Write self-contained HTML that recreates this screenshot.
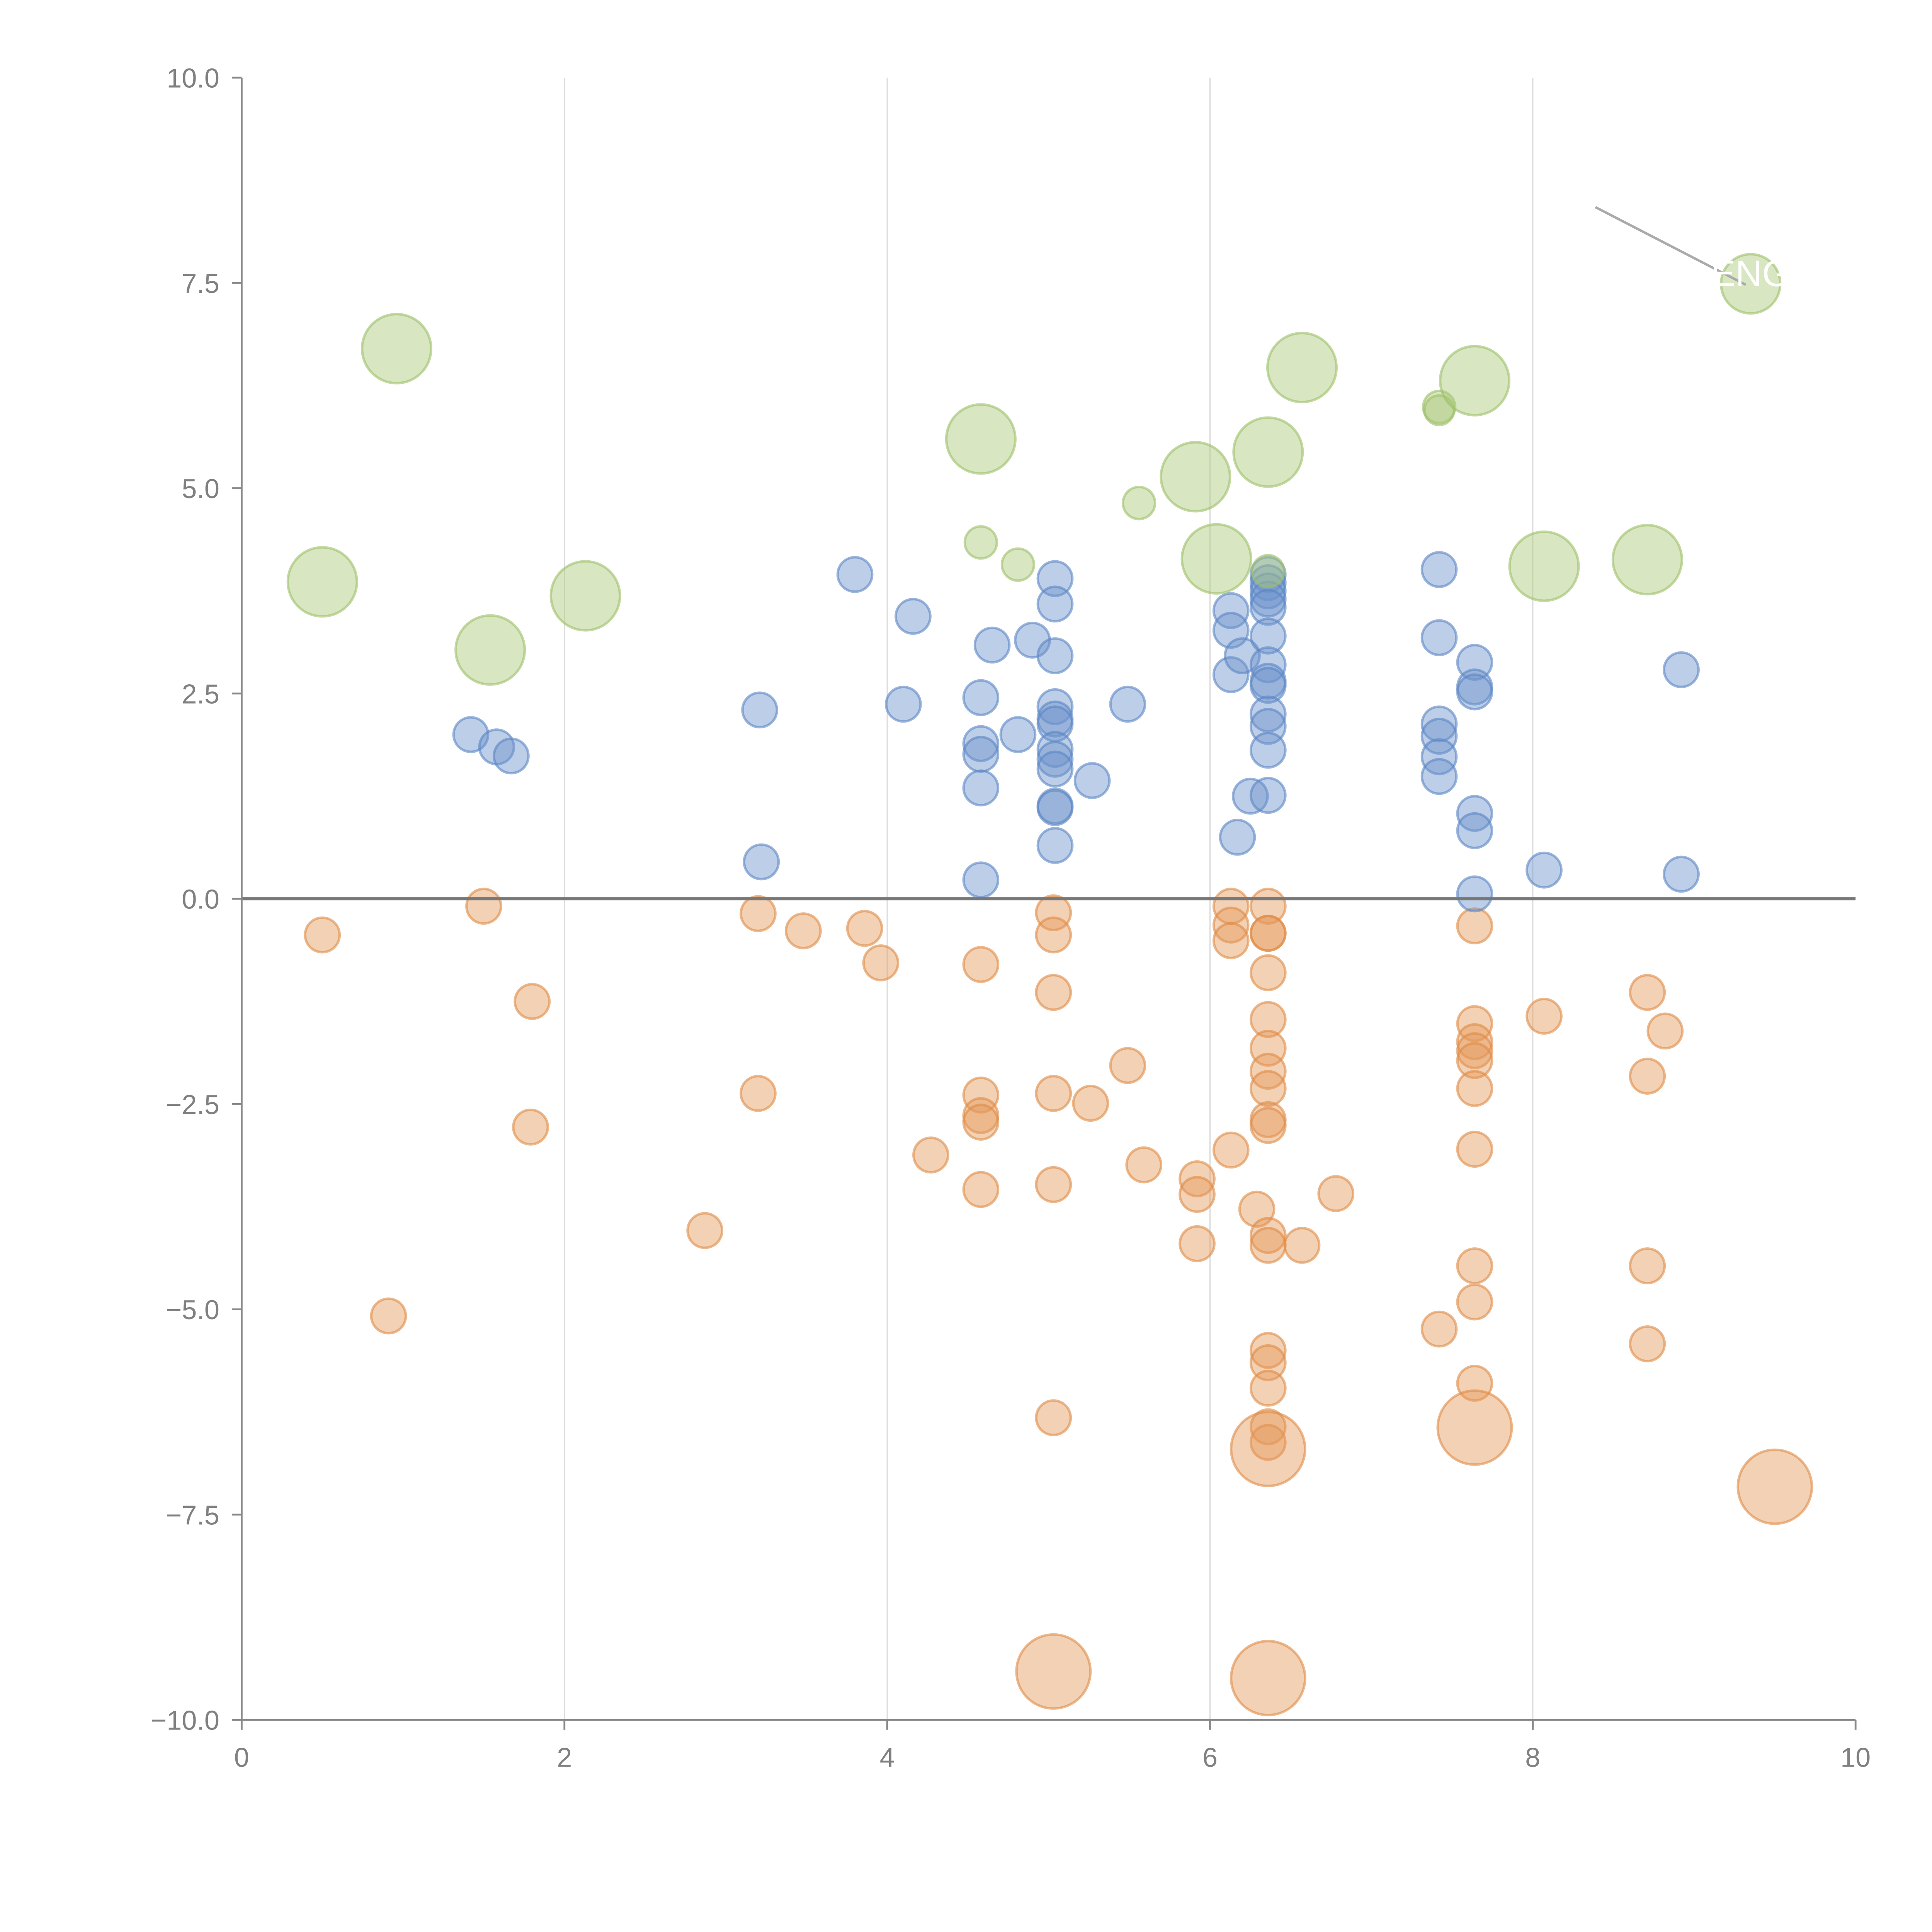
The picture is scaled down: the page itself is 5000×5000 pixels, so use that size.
<!DOCTYPE html>
<html><head><meta charset="utf-8"><style>html,body{margin:0;padding:0;background:#fff}svg{display:block}</style></head>
<body>
<svg id="chart" width="5000" height="5000" viewBox="0 0 1567 1567" xmlns="http://www.w3.org/2000/svg" font-family="Liberation Sans, sans-serif">
<g id="grid"></g>
<g id="marks"></g>
<g id="axes"></g>
</svg>
<script>
const xTicks = [0, 2, 4, 6, 8, 10];
const yTicks = [10, 7.5, 5, 2.5, 0, -2.5, -5, -7.5, -10];
const yTickLabels = ["10.0", "7.5", "5.0", "2.5", "0.0", "\u22122.5", "\u22125.0", "\u22127.5", "\u221210.0"];
const greenX = [0.96,0.50,1.54,2.13,4.58,4.58,4.81,5.56,5.91,6.04,6.36,6.36,6.57,7.42,7.42,7.64,8.07,8.71,9.35];
const greenY = [6.70,3.86,3.03,3.69,5.60,4.34,4.07,4.82,5.14,4.14,5.44,3.99,6.47,5.99,5.95,6.31,4.05,4.13,7.49];
const greenR = [28,28,28,28,28,13,13,13,28,28,28,13,28,13,12,28,28,28,24];
const blueX = [1.42,1.58,1.67,3.21,3.22,3.80,4.10,4.16,4.58,4.58,4.58,4.58,4.58,4.65,4.81,4.90,5.04,5.04,5.04,5.04,5.04,5.04,5.04,5.04,5.04,5.04,5.04,5.04,5.27,5.49,6.13,6.13,6.13,6.17,6.20,6.25,6.36,6.36,6.36,6.36,6.36,6.36,6.36,6.36,6.36,6.36,6.36,6.36,6.36,7.42,7.42,7.42,7.42,7.42,7.42,7.64,7.64,7.64,7.64,7.64,7.64,8.07,8.92,8.92];
const blueY = [2.0,1.85,1.74,2.30,0.45,3.95,2.37,3.44,2.45,1.89,1.76,1.35,0.23,3.09,2.0,3.15,3.90,3.59,2.96,2.34,2.19,2.13,1.82,1.70,1.58,1.13,1.11,0.65,1.44,2.37,3.51,3.27,2.73,0.75,2.96,1.25,3.95,3.85,3.75,3.65,3.55,3.20,2.85,2.65,2.60,2.25,2.10,1.81,1.26,4.01,3.18,2.13,1.98,1.73,1.49,2.88,2.58,2.52,1.04,0.83,0.06,0.35,2.79,0.30];
const orangeX = [0.50,1.50,0.91,1.80,1.79,2.87,3.20,3.20,3.48,3.86,3.96,4.27,4.58,4.58,4.58,4.58,4.58,5.03,5.03,5.03,5.03,5.03,5.03,5.03,5.26,5.49,5.59,5.92,5.92,5.92,6.13,6.13,6.13,6.13,6.29,6.36,6.36,6.36,6.36,6.36,6.36,6.36,6.36,6.36,6.36,6.36,6.36,6.36,6.36,6.36,6.36,6.36,6.36,6.36,6.57,6.78,7.42,7.64,7.64,7.64,7.64,7.64,7.64,7.64,7.64,7.64,7.64,7.64,8.07,8.71,8.82,8.71,8.71,8.71,9.50];
const orangeY = [-0.44,-0.09,-5.08,-1.25,-2.78,-4.04,-0.18,-2.37,-0.39,-0.36,-0.78,-3.12,-0.80,-2.39,-2.64,-2.72,-3.54,-0.17,-0.44,-1.14,-2.37,-3.48,-6.32,-9.41,-2.49,-2.03,-3.24,-3.41,-3.60,-4.20,-0.09,-0.32,-0.51,-3.06,-3.78,-0.09,-0.42,-0.42,-0.90,-1.47,-1.82,-2.10,-2.31,-2.69,-2.76,-4.10,-4.22,-5.50,-5.65,-5.96,-6.43,-6.62,-6.70,-9.49,-4.22,-3.59,-5.24,-0.33,-1.52,-1.74,-1.85,-1.97,-2.31,-3.05,-4.47,-4.91,-5.90,-6.44,-1.43,-1.14,-1.61,-2.16,-4.47,-5.42,-7.16];
const orangeR = [14,14,14,14,14,14,14,14,14,14,14,14,14,14,14,14,14,14,14,14,14,14,14,30,14,14,14,14,14,14,14,14,14,14,14,14,14,14,14,14,14,14,14,14,14,14,14,14,14,14,14,14,30,30,14,14,14,14,14,14,14,14,14,14,14,14,14,30,14,14,14,14,14,14,30];

const NS = "http://www.w3.org/2000/svg";
const X0 = 196, X1 = 1505, Y0 = 1395, Y1 = 63;
function sx(v){ return X0 + (v - 0) / 10 * (X1 - X0); }
function sy(v){ return Y0 - (v + 10) / 20 * (Y0 - Y1); }
function mk(tag, attrs, parent){ const e = document.createElementNS(NS, tag); for (const k in attrs) e.setAttribute(k, attrs[k]); parent.appendChild(e); return e; }

const grid = document.getElementById('grid');
const marks = document.getElementById('marks');
const axes = document.getElementById('axes');

xTicks.forEach(t => {
  if (t === 0 || t === 10) return;
  const l = mk('line', {x1: sx(t), x2: sx(t), y1: Y1, y2: Y0, stroke: '#dcdcdc', 'stroke-width': 1}, grid);
  
  
});

function drawSeries(xs, ys, rs, fill, stroke, name, defR){
  const g = mk('g', {}, marks);
  
  
  xs.forEach((x, i) => {
    const c = mk('circle', {cx: sx(x), cy: sy(ys[i]), r: rs ? rs[i] : defR, fill: fill, 'fill-opacity': 0.45, stroke: stroke, 'stroke-opacity': 0.6, 'stroke-width': 2}, g);
    
    
  });
}
drawSeries(orangeX, orangeY, orangeR, '#e59a5c', '#e08a45', 'orange', 14);
drawSeries(blueX, blueY, null, '#6d93cc', '#5a85c4', 'blue', 14);
drawSeries(greenX, greenY, greenR, '#a9c878', '#9cc068', 'green', 14);

const ann = mk('line', {x1: 1294, y1: 168, x2: 1416, y2: 231, stroke: '#aaaaaa', 'stroke-width': 2}, axes);


const at = mk('text', {x: 1420, y: 232, fill: '#ffffff', 'font-size': 30, 'text-anchor': 'middle'}, axes);
at.textContent = 'ENG';



const z = mk('line', {x1: X0, x2: X1, y1: sy(0), y2: sy(0), stroke: '#777', 'stroke-width': 2.5}, axes);



const ya = mk('line', {x1: X0, x2: X0, y1: Y1, y2: Y0, stroke: '#888', 'stroke-width': 1.5}, axes);


const xa = mk('line', {x1: X0, x2: X1, y1: Y0, y2: Y0, stroke: '#888', 'stroke-width': 1.5}, axes);



yTicks.forEach((t, i) => {
  const tk = mk('line', {x1: X0 - 8, x2: X0, y1: sy(t), y2: sy(t), stroke: '#888', 'stroke-width': 1.5}, axes);
  
  
  const tx = mk('text', {x: X0 - 18, y: sy(t) + 8, fill: '#808080', 'font-size': 22, 'text-anchor': 'end'}, axes);
  tx.textContent = yTickLabels[i];
  
  
});
xTicks.forEach(t => {
  const tk = mk('line', {x1: sx(t), x2: sx(t), y1: Y0, y2: Y0 + 8, stroke: '#888', 'stroke-width': 1.5}, axes);
  
  
  const tx = mk('text', {x: sx(t), y: Y0 + 38, fill: '#808080', 'font-size': 22, 'text-anchor': 'middle'}, axes);
  tx.textContent = String(t);
  
  
});
</script>
</body></html>
